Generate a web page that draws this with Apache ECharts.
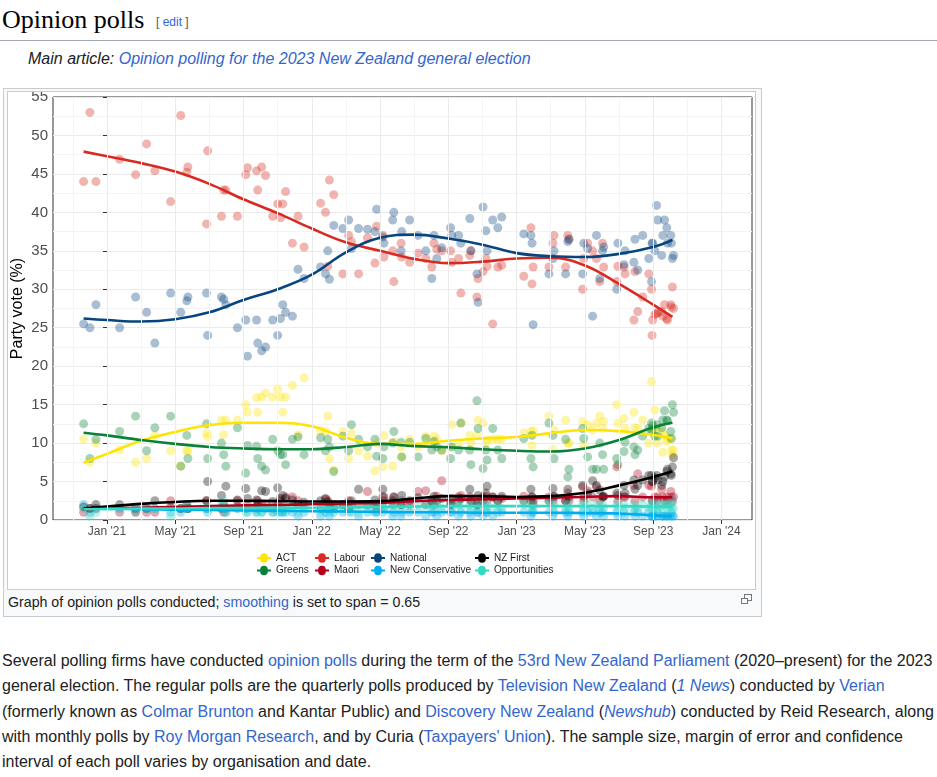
<!DOCTYPE html>
<html>
<head>
<meta charset="utf-8">
<title>Opinion polls</title>
<script src="https://cdn.jsdelivr.net/npm/echarts@6/dist/echarts.min.js"></script>
<style>
    body {
        margin: 0;
        width: 937px;
        height: 777px;
        overflow: hidden;
        position: relative;
        background: #fff;
        color: #202122;
        font-family: "Liberation Sans", Arial, sans-serif;
    }

    a {
        color: #3366cc;
        text-decoration: none;
    }

    .heading {
        position: absolute;
        left: 2px;
        top: 4px;
        font-family: "Liberation Serif", Georgia, serif;
        font-size: 26px;
        line-height: 32px;
        color: #000;
    }

    .edit {
        position: absolute;
        left: 156px;
        top: 14px;
        font-size: 12px;
        line-height: 16px;
        color: #54595d;
    }

    .rule {
        position: absolute;
        left: 0;
        top: 40px;
        width: 937px;
        height: 1px;
        background: #a2a9b1;
    }

    .hatnote {
        position: absolute;
        left: 28px;
        top: 50px;
        font-size: 16px;
        line-height: 18px;
        font-style: italic;
    }

    .thumb {
        position: absolute;
        left: 3px;
        top: 88px;
        width: 757px;
        height: 527px;
        border: 1px solid #c8ccd1;
        background: #f8f9fa;
    }

    .img {
        position: absolute;
        left: 7px;
        top: 91px;
        width: 747px;
        height: 497px;
        border: 1px solid #c8ccd1;
        background: #fff;
    }

    #main {
        width: 747px;
        height: 497px;
    }

    .caption {
        position: absolute;
        left: 8px;
        top: 593px;
        font-size: 14.2px;
        line-height: 18px;
    }

    .mag1, .mag2 {
        position: absolute;
        border: 1px solid #72777d;
        background: #f8f9fa;
    }

    .mag1 { left: 744px; top: 594px; width: 6px; height: 5px; }
    .mag2 { left: 741px; top: 598px; width: 5px; height: 4px; }

    .text {
        position: absolute;
        left: 2px;
        top: 648px;
        font-size: 16px;
        line-height: 25.3px;
        white-space: nowrap;
    }
</style>
</head>
<body>

<div class="heading">Opinion polls</div>
<div class="edit">[ <a href="javascript:;">edit</a> ]</div>
<div class="rule"></div>
<div class="hatnote">Main article: <a href="javascript:;">Opinion polling for the 2023 New Zealand general election</a></div>

<div class="thumb"></div>
<div class="img"><div id="main"></div></div>
<div class="caption">Graph of opinion polls conducted; <a href="javascript:;">smoothing</a> is set to span = 0.65</div>
<div class="mag1"></div><div class="mag2"></div>

<div class="text">
    Several polling firms have conducted <a href="javascript:;">opinion polls</a> during the term of the <a href="javascript:;">53rd New Zealand Parliament</a> (2020–present) for the 2023<br>
    general election. The regular polls are the quarterly polls produced by <a href="javascript:;">Television New Zealand</a> (<a href="javascript:;"><i>1 News</i></a>) conducted by <a href="javascript:;">Verian</a><br>
    (formerly known as <a href="javascript:;">Colmar Brunton</a> and Kantar Public) and <a href="javascript:;">Discovery New Zealand</a> (<a href="javascript:;"><i>Newshub</i></a>) conducted by Reid Research, along<br>
    with monthly polls by <a href="javascript:;">Roy Morgan Research</a>, and by Curia (<a href="javascript:;">Taxpayers' Union</a>). The sample size, margin of error and confidence<br>
    interval of each poll varies by organisation and date.
</div>

<script>
    // poll dates and party results (%)
    var pollDates = [
        '2020-11-20', '2020-12-01', '2020-12-12', '2021-01-24', '2021-02-20', '2021-03-11', '2021-03-26', '2021-04-23', '2021-05-11', '2021-05-22',
        '2021-05-24', '2021-06-26', '2021-06-28', '2021-07-23', '2021-07-27', '2021-07-31', '2021-08-21', '2021-09-05', '2021-09-08', '2021-09-24',
        '2021-09-26', '2021-10-03', '2021-10-10', '2021-10-23', '2021-11-01', '2021-11-06', '2021-11-10', '2021-11-15', '2021-11-27', '2021-12-07',
        '2021-12-18', '2022-01-17', '2022-01-26', '2022-01-30', '2022-02-02', '2022-02-09', '2022-02-24', '2022-03-06', '2022-03-11', '2022-03-24',
        '2022-04-09', '2022-04-22', '2022-04-25', '2022-05-06', '2022-05-08', '2022-05-24', '2022-05-26', '2022-06-08', '2022-06-09', '2022-06-23',
        '2022-07-08', '2022-07-22', '2022-08-02', '2022-08-06', '2022-08-11', '2022-08-20', '2022-09-05', '2022-09-07', '2022-09-19', '2022-09-23',
        '2022-10-09', '2022-10-11', '2022-10-22', '2022-10-24', '2022-11-02', '2022-11-07', '2022-11-09', '2022-11-19', '2022-11-28', '2022-12-05',
        '2023-01-14', '2023-01-27', '2023-01-29', '2023-01-31', '2023-02-26', '2023-03-05', '2023-03-07', '2023-03-28', '2023-04-01', '2023-04-03',
        '2023-04-27', '2023-04-29', '2023-05-06', '2023-05-15', '2023-05-22', '2023-05-28', '2023-06-02', '2023-06-04', '2023-06-27', '2023-06-29',
        '2023-07-10', '2023-07-12', '2023-07-28', '2023-07-30', '2023-08-04', '2023-08-13', '2023-08-24', '2023-08-29', '2023-08-30', '2023-08-31',
        '2023-09-04', '2023-09-07', '2023-09-09', '2023-09-16', '2023-09-18', '2023-09-21', '2023-09-25', '2023-09-26', '2023-10-02', '2023-10-03',
        '2023-10-05', '2023-10-07'
    ];

    var labour = [
        44.0, 53.0, 44.0, 46.9, 44.9, 48.9, 45.4, 41.4, 52.6, 45.2,
        45.9, 38.5, 48.0, 39.5, 42.9, 42.9, 39.5, 44.9, 45.8, 45.4,
        42.9, 45.9, 44.8, 39.5, 41.1, 39.3, 41.1, 42.7, 36.0, 39.5,
        35.5, 41.2, 40.0, 33.0, 44.2, 42.3, 32.0, 37.0, 36.2, 32.0,
        36.7, 33.4, 38.2, 37.0, 34.2, 35.0, 31.0, 36.0, 34.2, 33.5,
        34.7, 34.0, 32.9, 36.0, 35.2, 35.0, 35.0, 33.5, 34.0, 29.5,
        34.4, 35.0, 29.0, 31.4, 32.3, 34.0, 33.0, 25.5, 32.9, 33.1,
        31.7, 38.0, 30.7, 32.9, 32.9, 36.0, 37.0, 32.9, 37.0, 36.5,
        30.0, 34.0, 36.0, 35.0, 34.0, 31.0, 36.0, 32.9, 31.0, 33.0,
        32.9, 32.0, 26.0, 32.3, 27.1, 29.0, 32.0, 30.0, 24.0, 26.0,
        26.7, 26.9, 26.9, 27.1, 26.5, 28.0, 26.2, 26.0, 28.0, 27.7,
        30.3, 27.5
    ];

    var national = [
        25.5, 25.0, 28.0, 25.0, 29.0, 27.0, 23.0, 29.5, 27.0, 28.5,
        29.0, 29.5, 24.0, 29.0, 28.7, 28.0, 25.0, 26.0, 21.3, 26.0,
        23.0, 22.0, 22.5, 26.0, 24.0, 26.2, 28.0, 27.0, 26.5, 32.6,
        31.4, 32.9, 32.0, 35.0, 31.3, 38.3, 37.9, 39.0, 35.3, 37.9,
        37.8, 37.5, 40.4, 36.8, 36.0, 39.0, 40.0, 35.0, 37.5, 39.0,
        37.0, 35.0, 31.4, 37.0, 34.0, 35.4, 38.0, 37.0, 37.0, 36.0,
        39.2, 35.0, 32.0, 28.3, 40.7, 37.6, 35.0, 39.0, 38.0, 39.4,
        37.2, 37.0, 36.0, 25.4, 32.0, 34.0, 35.0, 32.0, 36.2, 36.5,
        32.0, 36.0, 35.3, 26.5, 37.0, 31.4, 35.0, 35.5, 30.0, 36.0,
        33.2, 35.0, 33.5, 36.5, 32.5, 37.0, 34.0, 31.0, 36.0, 36.0,
        35.0, 40.9, 39.0, 34.4, 37.0, 39.0, 38.0, 36.0, 37.0, 36.0,
        34.0, 34.4
    ];

    var greens = [
        12.5, 8.0, 10.5, 11.5, 13.5, 9.0, 12.0, 13.5, 7.0, 11.0,
        8.0, 12.5, 8.0, 10.0, 8.5, 7.0, 12.0, 6.1, 9.7, 9.6,
        8.0, 7.0, 6.5, 10.5, 9.0, 8.5, 8.5, 7.2, 10.5, 10.8,
        8.5, 10.7, 9.0, 10.5, 9.5, 6.3, 10.9, 9.0, 12.4, 10.5,
        9.5, 10.5, 8.3, 8.0, 9.5, 10.0, 11.5, 10.1, 8.2, 10.1,
        8.2, 10.6, 9.1, 10.2, 9.5, 9.1, 8.0, 9.5, 9.1, 12.6,
        9.1, 7.2, 15.5, 11.9, 6.7, 9.1, 7.8, 11.9, 9.1, 8.0,
        10.6, 8.0, 11.0, 6.9, 12.6, 11.0, 8.0, 10.5, 5.6, 6.6,
        11.9, 10.6, 8.2, 6.6, 6.6, 10.0, 8.5, 6.6, 8.0, 7.2,
        8.9, 10.1, 9.5, 8.5, 9.1, 10.9, 11.9, 12.6, 11.7, 12.3,
        10.9, 12.4, 10.9, 12.0, 13.0, 14.2, 13.0, 12.9, 11.5, 10.6,
        15.0, 14.0
    ];

    var act = [
        10.5, 7.5, 10.0, 9.1, 7.5, 8.0, 11.0, 9.0, 7.0, 9.0,
        9.0, 11.3, 10.8, 13.0, 11.1, 13.0, 13.0, 15.0, 14.0, 15.9,
        14.0, 16.0, 16.5, 16.0, 17.0, 16.0, 14.0, 16.0, 17.5, 11.1,
        18.5, 11.6, 11.5, 13.5, 8.0, 6.5, 11.5, 8.0, 11.3, 9.0,
        8.3, 6.4, 10.0, 6.9, 11.0, 7.0, 10.2, 9.5, 8.2, 10.5,
        9.5, 10.9, 10.0, 10.9, 10.5, 9.0, 9.5, 12.4, 10.0, 12.6,
        11.0, 10.0, 11.0, 13.0, 12.6, 10.0, 10.4, 10.5, 10.5, 10.5,
        11.3, 11.5, 9.7, 11.6, 13.5, 9.2, 11.7, 13.0, 10.0, 10.0,
        12.8, 9.7, 12.4, 11.7, 12.6, 13.5, 11.9, 12.8, 15.0, 12.6,
        13.2, 11.9, 14.0, 12.0, 11.9, 13.0, 10.0, 18.0, 11.5, 12.0,
        14.3, 11.9, 10.0, 11.5, 8.8, 11.0, 10.2, 10.6, 10.6, 9.1,
        8.5, 9.1
    ];

    var nzFirst = [
        1.7, 1.5, 2.0, 2.0, 1.0, 1.5, 2.5, 1.7, 1.5, 2.0,
        1.5, 2.5, 5.0, 3.2, 2.0, 4.4, 2.6, 4.1, 2.8, 2.6,
        2.0, 3.8, 3.7, 2.4, 4.2, 2.8, 3.2, 2.8, 2.6, 2.0,
        2.3, 2.5, 2.8, 2.3, 2.0, 1.5, 2.0, 1.5, 2.5, 4.0,
        2.0, 2.6, 2.0, 4.0, 3.0, 2.5, 3.0, 2.0, 3.2, 2.5,
        2.9, 2.0, 2.5, 3.1, 2.5, 2.8, 2.0, 2.8, 2.5, 2.8,
        4.0, 2.5, 2.0, 3.2, 2.5, 3.5, 4.4, 3.0, 2.5, 3.1,
        2.5, 4.0, 3.0, 2.5, 2.5, 4.1, 3.1, 2.5, 4.0, 3.0,
        4.5, 3.0, 3.5, 5.1, 4.5, 3.9, 3.0, 3.1, 3.5, 3.2,
        4.5, 3.5, 5.2, 4.0, 4.5, 5.2, 5.8, 5.8, 5.0, 5.0,
        5.5, 5.8, 5.2, 4.5, 5.0, 5.6, 6.3, 6.6, 6.0, 5.8,
        6.9, 8.1
    ];

    var maori = [
        1.0, 1.5, 1.5, 1.0, 1.5, 1.0, 1.0, 2.5, 1.5, 1.5,
        1.5, 2.5, 1.5, 1.5, 1.0, 1.5, 2.5, 1.5, 2.0, 1.5,
        2.5, 2.0, 2.0, 1.5, 2.0, 2.5, 1.5, 3.0, 3.0, 2.5,
        2.0, 1.5, 2.7, 2.5, 1.5, 2.0, 2.0, 2.5, 2.0, 2.0,
        3.7, 2.0, 1.5, 3.0, 2.5, 2.0, 3.0, 2.0, 2.5, 2.0,
        3.7, 3.8, 2.5, 2.0, 3.1, 5.1, 2.5, 2.0, 3.0, 3.2,
        3.0, 2.5, 2.5, 2.0, 3.0, 3.1, 2.5, 3.0, 2.5, 2.8,
        3.1, 2.5, 3.0, 2.0, 3.0, 2.5, 3.0, 2.5, 3.5, 2.5,
        4.3, 2.5, 3.8, 3.0, 4.3, 2.5, 3.0, 3.0, 6.9, 2.5,
        3.0, 3.0, 4.5, 2.5, 6.0, 3.0, 4.5, 4.4, 2.5, 2.5,
        3.0, 2.5, 3.0, 4.0, 3.0, 2.5, 3.0, 2.5, 3.7, 3.0,
        2.4, 3.0
    ];

    var newConservative = [
        2.0, 1.0, 1.5, 1.5, 1.5, 1.5, 1.5, 1.0, 1.0, 1.5,
        1.5, 1.5, 1.0, 1.5, 1.5, 1.0, 1.5, 1.5, 1.0, 1.0,
        1.5, 1.0, 1.5, 1.0, 1.0, 1.0, 1.0, 1.0, 1.0, 0.5,
        1.0, 0.5, 1.0, 1.5, 0.5, 1.0, 1.0, 1.5, 1.0, 0.5,
        1.0, 1.0, 1.0, 1.0, 1.5, 0.5, 1.0, 0.5, 1.0, 1.0,
        1.0, 0.5, 1.0, 1.0, 0.5, 1.0, 1.0, 1.0, 0.5, 1.0,
        1.0, 0.5, 1.0, 1.0, 0.5, 1.0, 1.0, 0.5, 1.0, 1.0,
        1.0, 0.5, 1.0, 1.0, 1.0, 0.5, 1.0, 1.0, 0.5, 1.0,
        1.0, 0.5, 1.0, 1.0, 0.5, 1.0, 1.0, 0.5, 1.0, 0.5,
        1.0, 0.5, 1.0, 0.5, 1.0, 0.5, 1.0, 0.5, 0.5, 0.5,
        0.5, 0.5, 1.0, 0.5, 0.5, 0.5, 0.5, 0.5, 0.5, 1.0,
        0.5, 0.5
    ];

    var opportunities = [
        1.5, 0.5, 1.0, 1.5, 1.5, 1.5, 1.5, 0.5, 1.5, 1.5,
        1.5, 1.5, 1.5, 2.0, 2.5, 1.0, 1.5, 1.0, 1.5, 1.0,
        1.5, 1.0, 1.5, 1.0, 1.5, 1.5, 1.0, 1.5, 1.5, 1.0,
        1.5, 1.0, 1.5, 1.5, 1.0, 1.5, 1.5, 1.0, 1.5, 1.0,
        1.5, 2.0, 1.0, 2.0, 1.5, 1.5, 2.0, 1.5, 2.5, 1.5,
        2.0, 1.5, 2.0, 1.5, 2.0, 1.5, 2.5, 1.5, 2.0, 1.5,
        2.0, 1.5, 2.5, 1.5, 2.0, 1.5, 2.0, 1.5, 2.0, 1.5,
        2.0, 1.5, 2.0, 1.5, 2.5, 1.5, 2.0, 1.5, 2.0, 1.5,
        2.0, 1.5, 2.0, 1.5, 2.0, 1.5, 2.0, 1.5, 2.0, 1.5,
        2.0, 1.5, 2.0, 1.5, 1.5, 2.0, 1.5, 2.0, 1.5, 2.5,
        1.5, 2.0, 1.5, 2.0, 1.5, 2.0, 1.5, 2.0, 2.0, 1.5,
        2.5, 1.5
    ];

    // smoothed trend (span = 0.65)
    var trendDates = [
        '2020-11-20', '2021-01-01', '2021-03-01', '2021-05-01', '2021-07-01', '2021-09-01', '2021-11-01',
        '2022-01-01', '2022-03-01', '2022-05-01', '2022-07-01', '2022-09-01', '2022-11-01',
        '2023-01-01', '2023-03-01', '2023-05-01', '2023-07-01', '2023-09-01', '2023-10-05'
    ];
    var labourTrend = [47.9, 47.3, 46.4, 45.3, 43.7, 41.7, 39.9, 37.9, 36.1, 35.0, 33.95, 33.4, 33.6, 34.0, 34.1, 33.1, 30.7, 28.0, 26.4];
    var nationalTrend = [26.2, 26.0, 25.8, 26.1, 27.0, 28.6, 30.0, 31.9, 34.8, 36.7, 37.1, 36.6, 35.8, 34.7, 34.3, 34.2, 34.6, 35.5, 36.4];
    var greensTrend = [11.35, 11.0, 10.4, 9.9, 9.5, 9.3, 9.2, 9.2, 9.5, 9.9, 9.6, 9.45, 9.2, 9.0, 8.9, 9.3, 10.4, 12.05, 12.65];
    var actTrend = [7.45, 8.6, 10.3, 11.45, 12.35, 12.65, 12.65, 12.2, 10.7, 9.9, 9.9, 10.3, 10.6, 10.8, 11.3, 11.7, 11.55, 11.05, 10.6];
    var nzFirstTrend = [1.5, 1.75, 2.1, 2.35, 2.5, 2.5, 2.47, 2.4, 2.4, 2.45, 2.8, 3.1, 3.1, 3.0, 3.1, 3.55, 4.5, 5.6, 6.3];
    var maoriTrend = [1.4, 1.5, 1.6, 1.7, 1.8, 1.9, 1.95, 2.05, 2.15, 2.25, 2.45, 2.6, 2.7, 2.8, 2.9, 3.0, 3.1, 2.95, 2.95];
    var newConservativeTrend = [1.5, 1.45, 1.4, 1.35, 1.3, 1.25, 1.2, 1.15, 1.1, 1.05, 1.0, 1.0, 0.95, 0.95, 0.95, 0.9, 0.85, 0.6, 0.5];
    var opportunitiesTrend = [1.4, 1.45, 1.5, 1.5, 1.55, 1.55, 1.6, 1.6, 1.65, 1.7, 1.75, 1.8, 1.8, 1.8, 1.8, 1.8, 1.8, 1.75, 1.75];

    // x axis: months since Jan 2021
    var tickLabels = ["Jan '21", "May '21", "Sep '21", "Jan '22", "May '22", "Sep '22", "Jan '23", "May '23", "Sep '23", "Jan '24"];
    var tickMonths = [0, 4, 8, 12, 16, 20, 24, 28, 32, 36];
    var minorMonths = [-2, 2, 6, 10, 14, 18, 22, 26, 30, 34];

    function toMonths(s) {
        var p = s.split('-');
        var y = +p[0], m = +p[1], d = +p[2];
        var dim = new Date(y, m, 0).getDate();
        return (y - 2021) * 12 + (m - 1) + (d - 1) / dim;
    }

    var pollX = pollDates.map(toMonths);
    var trendX = trendDates.map(toMonths);

    function pairs(xs, ys) {
        return xs.map(function (x, i) {
            return [x, ys[i]];
        });
    }

    var parties = [
        {name: 'ACT', color: '#FDE401', polls: act, trend: actTrend},
        {name: 'Greens', color: '#098137', polls: greens, trend: greensTrend},
        {name: 'Labour', color: '#D82A20', polls: labour, trend: labourTrend},
        {name: 'Maori', color: '#B2001A', polls: maori, trend: maoriTrend},
        {name: 'National', color: '#08457E', polls: national, trend: nationalTrend},
        {name: 'New Conservative', color: '#00AEEF', polls: newConservative, trend: newConservativeTrend},
        {name: 'NZ First', color: '#000000', polls: nzFirst, trend: nzFirstTrend},
        {name: 'Opportunities', color: '#32DAC3', polls: opportunities, trend: opportunitiesTrend}
    ];

    var colorOf = {};
    parties.forEach(function (p) {
        colorOf[p.name] = p.color;
    });

    // vertical grid lines
    var gridLines = [];
    tickMonths.forEach(function (v) {
        gridLines.push({xAxis: v, lineStyle: {color: '#ebebeb', width: 1, type: 'solid'}});
    });
    minorMonths.forEach(function (v) {
        gridLines.push({xAxis: v, lineStyle: {color: '#f4f4f4', width: 1, type: 'solid'}});
    });

    var series = [{
        type: 'line',
        data: [],
        z: 1,
        silent: true,
        markLine: {
            silent: true,
            symbol: 'none',
            label: {show: false},
            animation: false,
            data: gridLines
        }
    }];

    parties.forEach(function (p) {
        series.push({
            name: p.name,
            type: 'scatter',
            data: pairs(pollX, p.polls),
            symbolSize: 9,
            z: 2,
            itemStyle: {color: p.color, opacity: 0.35}
        });
    });

    parties.forEach(function (p) {
        series.push({
            name: p.name,
            type: 'line',
            data: pairs(trendX, p.trend),
            smooth: 0.4,
            showSymbol: false,
            z: 3,
            lineStyle: {color: p.color, width: 2.6}
        });
    });

    var legendIcon = 'path://M0,4h3.2a3.8,3.8,0,0,1,7.6,0h3.2v2h-3.2a3.8,3.8,0,0,1,-7.6,0h-3.2z';
    var legendCols = [['ACT', 'Greens'], ['Labour', 'Maori'], ['National', 'New Conservative'], ['NZ First', 'Opportunities']];
    var legendLeft = [249, 307, 363, 467];

    var legends = legendCols.map(function (names, i) {
        return {
            orient: 'vertical',
            left: legendLeft[i],
            top: 461,
            padding: 0,
            itemWidth: 14,
            itemHeight: 10,
            itemGap: 2.5,
            selectedMode: false,
            textStyle: {fontSize: 10, color: '#1a1a1a', fontFamily: 'Liberation Sans'},
            data: names.map(function (n) {
                return {name: n, icon: legendIcon, itemStyle: {color: colorOf[n], opacity: 1}};
            })
        };
    });

    var myChart = echarts.init(document.getElementById('main'));
    var option = {
        animation: false,
        textStyle: {fontFamily: 'Liberation Sans'},
        grid: {
            left: 45,
            right: 3,
            top: 5,
            bottom: 69,
            outerBoundsMode: 'none',
            containLabel: false,
            show: true,
            backgroundColor: '#fff',
            borderColor: '#333',
            borderWidth: 1
        },
        legend: legends,
        xAxis: {
            type: 'value',
            min: -3.16,
            max: 37.79,
            axisLine: {show: false},
            axisTick: {
                show: true,
                length: 4,
                customValues: tickMonths,
                lineStyle: {color: '#333'}
            },
            axisLabel: {
                customValues: tickMonths,
                margin: 6,
                fontSize: 12,
                color: '#4d4d4d',
                formatter: function (v) {
                    var i = tickMonths.indexOf(v);
                    return i < 0 ? '' : tickLabels[i];
                }
            },
            splitLine: {show: false}
        },
        yAxis: {
            type: 'value',
            min: 0,
            max: 55,
            interval: 5,
            name: 'Party vote (%)',
            nameLocation: 'middle',
            nameGap: 27,
            nameMoveOverlap: false,
            nameTextStyle: {fontSize: 16, color: '#000'},
            axisLine: {show: false},
            axisTick: {show: true, length: 4, lineStyle: {color: '#333'}},
            axisLabel: {fontSize: 15, color: '#4d4d4d', margin: 5},
            splitLine: {lineStyle: {color: '#ebebeb', width: 1}},
            minorTick: {show: false, splitNumber: 2},
            minorSplitLine: {show: true, lineStyle: {color: '#f4f4f4', width: 1}}
        },
        series: series
    };
    myChart.setOption(option);
</script>
</body>
</html>
